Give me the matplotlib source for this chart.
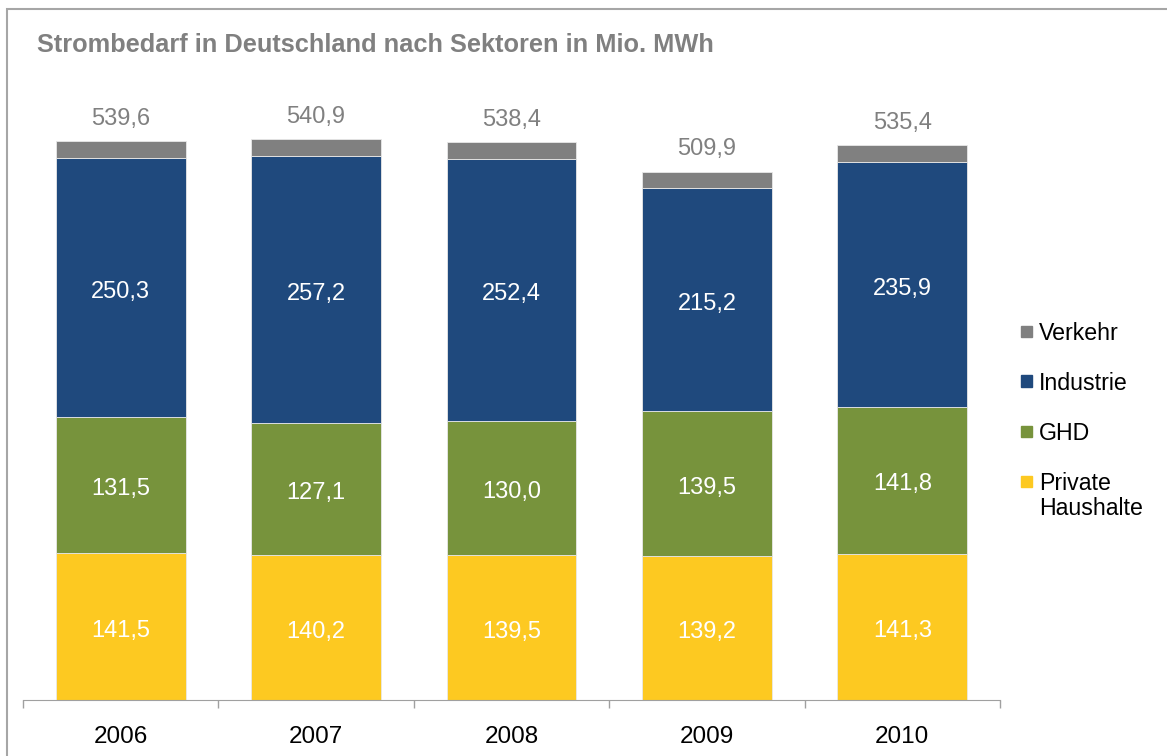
import matplotlib.pyplot as plt
from matplotlib.patches import Rectangle

plt.rcParams['font.family'] = ['Liberation Sans', 'DejaVu Sans']

# Strombedarf in Mio. MWh
years = ["2006", "2007", "2008", "2009", "2010"]
haushalte = [141.5, 140.2, 139.5, 139.2, 141.3]
ghd = [131.5, 127.1, 130.0, 139.5, 141.8]
industrie = [250.3, 257.2, 252.4, 215.2, 235.9]
verkehr = [16.3, 16.4, 16.5, 16.0, 16.4]
totals = [539.6, 540.9, 538.4, 509.9, 535.4]

series = [("Private\nHaushalte", haushalte, "#FDC921"),
          ("GHD", ghd, "#77933C"),
          ("Industrie", industrie, "#1F497D"),
          ("Verkehr", verkehr, "#808080")]

fig = plt.figure(figsize=(11.67, 7.56), dpi=100)
ax = fig.add_axes([23/1167, 56/756, 977/1167, 600/756])

x = range(len(years))
bottom = [0] * len(years)
for name, vals, col in series:
    ax.bar(x, vals, 0.665, bottom=bottom, color=col, edgecolor="#E8E8E8",
           linewidth=0.6, label=name)
    if name != "Verkehr":
        for i, v in enumerate(vals):
            ax.annotate(f"{v:.1f}".replace(".", ","), (i, bottom[i] + v / 2),
                        xytext=(0, -3), textcoords="offset points",
                        ha="center", va="center", color="white", fontsize=17)
    bottom = [bt + v for bt, v in zip(bottom, vals)]

for i, t in enumerate(totals):
    ax.annotate(f"{t:.1f}".replace(".", ","), (i, bottom[i]), xytext=(0, 8),
                textcoords="offset points", ha="center", va="bottom",
                color="#808080", fontsize=17)

ax.set_xlim(-0.5, len(years) - 0.5)
ax.set_ylim(0, 579)
ax.set_yticks([])
ax.set_xticks(list(x))
ax.set_xticklabels(years, fontsize=17.5)
ax.set_xticks([i - 0.5 for i in range(len(years) + 1)], minor=True)
ax.tick_params(axis="x", which="major", length=0, pad=19)
ax.tick_params(axis="x", which="minor", length=6, color="#A0A0A0", width=1)
for s in ["top", "right", "left"]:
    ax.spines[s].set_visible(False)
ax.spines["bottom"].set_color("#A0A0A0")

# legend, drawn by hand so the marker sits on the first line of the label
for k, (name, vals, col) in enumerate(series[::-1]):
    yc = 1 - (331 + 50 * k) / 756
    fig.patches.append(Rectangle((1021/1167, yc - 5.5/756), 11/1167, 11/756,
                                 transform=fig.transFigure, color=col))
    fig.text(1039/1167, yc + 9/756, name, fontsize=16.7, va="top",
             linespacing=1.1)

fig.text(37/1167, 1 - 45/756, "Strombedarf in Deutschland nach Sektoren in Mio. MWh",
         fontsize=18.3, fontweight="bold", color="#808080", va="center")

fig.patches.append(Rectangle((7/1167, -0.1), 1.2, 1.1 - 9/756, transform=fig.transFigure,
                             fill=False, edgecolor="#A6A6A6", linewidth=1.5))

fig.savefig("out.png", dpi=100)
